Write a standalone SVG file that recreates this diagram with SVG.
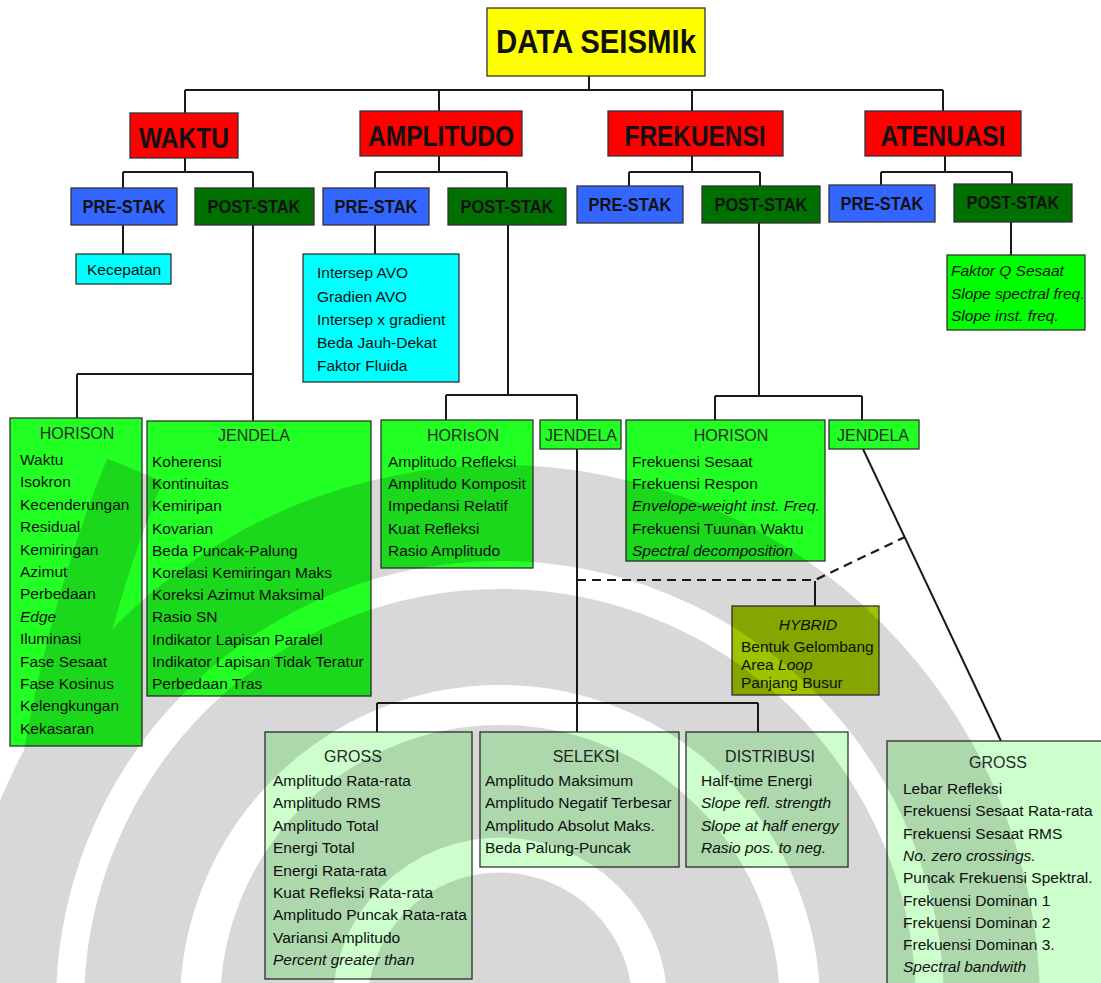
<svg xmlns="http://www.w3.org/2000/svg" width="1101" height="983" viewBox="0 0 1101 983">
<style>
text{font-family:"Liberation Sans",Arial,"DejaVu Sans",sans-serif;fill:#111}
.big{font-weight:bold}
.t{font-size:15.5px}
.h{font-size:16px;fill:#2a2a2a;text-anchor:middle}
.s{font-weight:bold;font-size:18px;text-anchor:middle}
.i{font-style:italic}
.box{stroke:#333;stroke-width:1.3}
.red{fill:#ff0000}
.blue{fill:#3366ff}
.dg{fill:#007000}
.cy{fill:#00ffff}
.gr{fill:#22ff22}
.pg{fill:#00ff00}
.lg{fill:#ccffcc}
.ol{fill:#9ec400}
.ln{stroke:#1a1a1a;stroke-width:2;fill:none}
.dash{stroke:#1a1a1a;stroke-width:2.2;fill:none;stroke-dasharray:9 6}
</style>
<defs>
<mask id="wmMask" maskUnits="userSpaceOnUse" x="0" y="0" width="1101" height="983">
<rect width="1101" height="983" fill="#000"/>
<circle cx="500" cy="1005" r="540" fill="#fff"/>
<path d="M30 990 Q40 700 135 470" stroke="#fff" stroke-width="60" fill="none"/>
<circle cx="500" cy="1005" r="300" stroke="#000" stroke-width="40" fill="none"/>
<circle cx="500" cy="1005" r="430" stroke="#000" stroke-width="28" fill="none"/>
<circle cx="500" cy="1005" r="150" stroke="#000" stroke-width="35" fill="none"/>
</mask>
</defs>
<rect width="1101" height="983" fill="#fff"/>

<g id="connectors">
<path class="ln" d="M589 76V90M185 90H943M185 90V113M439 90V111M692 90V111M943 90V111"/>
<path class="ln" d="M185 158V172M123 172H253M123 172V188M253 172V188"/>
<path class="ln" d="M439 156V172M375 172H507M375 172V188M507 172V188"/>
<path class="ln" d="M692 156V172M629 172H760M629 172V186M760 172V186"/>
<path class="ln" d="M945 156V172M881 172H1012M881 172V185M1012 172V184"/>
<path class="ln" d="M123 225V254"/>
<path class="ln" d="M253 225V421M77 374H253M77 374V418"/>
<path class="ln" d="M375 225V254"/>
<path class="ln" d="M508 225V395M446 395H577M446 395V420M577 395V420"/>
<path class="ln" d="M759 223V396M715 396H862M715 396V420M862 396V420"/>
<path class="ln" d="M1011 222V255"/>
<path class="ln" d="M577 449V732"/>
<path class="ln" d="M377 703H758M377 703V732M758 703V732"/>
<path class="ln" d="M863 449L1001 741"/>
<path class="dash" d="M577 580H815L905 537"/>
<path class="ln" d="M815 581V606"/>
</g>

<g id="data-seismik">
<rect class="box" x="487" y="8" width="218" height="68" fill="#ffff00"/>
<text class="big" x="596" y="53" font-size="33" text-anchor="middle" textLength="200" lengthAdjust="spacingAndGlyphs">DATA SEISMIk</text>
</g>
<g id="waktu">
<rect class="box red" x="130" y="113" width="108" height="45"/>
<text class="big" x="184" y="148" font-size="30" text-anchor="middle" textLength="90" lengthAdjust="spacingAndGlyphs">WAKTU</text>
</g>
<g id="amplitudo">
<rect class="box red" x="360" y="111" width="162" height="45"/>
<text class="big" x="441" y="146" font-size="30" text-anchor="middle" textLength="146" lengthAdjust="spacingAndGlyphs">AMPLITUDO</text>
</g>
<g id="frekuensi">
<rect class="box red" x="608" y="111" width="175" height="45"/>
<text class="big" x="695" y="146" font-size="30" text-anchor="middle" textLength="141" lengthAdjust="spacingAndGlyphs">FREKUENSI</text>
</g>
<g id="atenuasi">
<rect class="box red" x="865" y="111" width="156" height="45"/>
<text class="big" x="943" y="146" font-size="30" text-anchor="middle" textLength="125" lengthAdjust="spacingAndGlyphs">ATENUASI</text>
</g>

<g id="waktu-prestak">
<rect class="box blue" x="71" y="188" width="106" height="37"/>
<text class="s" x="124" y="213" textLength="83" lengthAdjust="spacingAndGlyphs">PRE-STAK</text>
</g>
<g id="waktu-poststak">
<rect class="box dg" x="195" y="188" width="119" height="37"/>
<text class="s" x="254" y="213" textLength="93" lengthAdjust="spacingAndGlyphs">POST-STAK</text>
</g>
<g id="amp-prestak">
<rect class="box blue" x="323" y="188" width="106" height="37"/>
<text class="s" x="376" y="213" textLength="83" lengthAdjust="spacingAndGlyphs">PRE-STAK</text>
</g>
<g id="amp-poststak">
<rect class="box dg" x="448" y="188" width="118" height="37"/>
<text class="s" x="507" y="213" textLength="93" lengthAdjust="spacingAndGlyphs">POST-STAK</text>
</g>
<g id="frek-prestak">
<rect class="box blue" x="577" y="186" width="106" height="37"/>
<text class="s" x="630" y="211" textLength="83" lengthAdjust="spacingAndGlyphs">PRE-STAK</text>
</g>
<g id="frek-poststak">
<rect class="box dg" x="702" y="186" width="118" height="37"/>
<text class="s" x="761" y="211" textLength="93" lengthAdjust="spacingAndGlyphs">POST-STAK</text>
</g>
<g id="aten-prestak">
<rect class="box blue" x="829" y="185" width="106" height="37"/>
<text class="s" x="882" y="210" textLength="83" lengthAdjust="spacingAndGlyphs">PRE-STAK</text>
</g>
<g id="aten-poststak">
<rect class="box dg" x="954" y="184" width="118" height="38"/>
<text class="s" x="1013" y="209" textLength="93" lengthAdjust="spacingAndGlyphs">POST-STAK</text>
</g>

<g id="kecepatan">
<rect class="box cy" x="76" y="254" width="95" height="30"/>
<text class="t" x="87" y="275">Kecepatan</text>
</g>
<g id="avo">
<rect class="box cy" x="303" y="254" width="156" height="128"/>
<text class="t" x="317" y="278">Intersep AVO</text>
<text class="t" x="317" y="302">Gradien AVO</text>
<text class="t" x="317" y="325">Intersep x gradient</text>
<text class="t" x="317" y="348">Beda Jauh-Dekat</text>
<text class="t" x="317" y="371">Faktor Fluida</text>
</g>
<g id="faktor-q">
<rect class="box pg" x="947" y="255" width="138" height="75"/>
<text class="t i" x="951" y="276">Faktor Q Sesaat</text>
<text class="t i" x="951" y="299">Slope spectral freq.</text>
<text class="t i" x="951" y="321">Slope inst. freq.</text>
</g>

<g id="waktu-horison">
<rect class="box gr" x="10" y="418" width="132" height="328"/>
<text class="h" x="77" y="439">HORISON</text>
<text class="t" x="20" y="465">Waktu</text>
<text class="t" x="20" y="487.4">Isokron</text>
<text class="t" x="20" y="509.8">Kecenderungan</text>
<text class="t" x="20" y="532.2">Residual</text>
<text class="t" x="20" y="554.6">Kemiringan</text>
<text class="t" x="20" y="577">Azimut</text>
<text class="t" x="20" y="599.4">Perbedaan</text>
<text class="t i" x="20" y="621.8">Edge</text>
<text class="t" x="20" y="644.2">Iluminasi</text>
<text class="t" x="20" y="666.6">Fase Sesaat</text>
<text class="t" x="20" y="689">Fase Kosinus</text>
<text class="t" x="20" y="711.4">Kelengkungan</text>
<text class="t" x="20" y="733.8">Kekasaran</text>
</g>
<g id="waktu-jendela">
<rect class="box gr" x="147" y="421" width="224" height="275"/>
<text class="h" x="254" y="441">JENDELA</text>
<text class="t" x="152" y="467">Koherensi</text>
<text class="t" x="152" y="489.2">Kontinuitas</text>
<text class="t" x="152" y="511.4">Kemiripan</text>
<text class="t" x="152" y="533.6">Kovarian</text>
<text class="t" x="152" y="555.8">Beda Puncak-Palung</text>
<text class="t" x="152" y="578">Korelasi Kemiringan Maks</text>
<text class="t" x="152" y="600.2">Koreksi Azimut Maksimal</text>
<text class="t" x="152" y="622.4">Rasio SN</text>
<text class="t" x="152" y="644.6">Indikator Lapisan Paralel</text>
<text class="t" x="152" y="666.8">Indikator Lapisan Tidak Teratur</text>
<text class="t" x="152" y="689">Perbedaan Tras</text>
</g>
<g id="amp-horison">
<rect class="box gr" x="381" y="420" width="152" height="148"/>
<text class="h" x="463" y="441">HORIsON</text>
<text class="t" x="388" y="467">Amplitudo Refleksi</text>
<text class="t" x="388" y="489.2">Amplitudo Komposit</text>
<text class="t" x="388" y="511.4">Impedansi Relatif</text>
<text class="t" x="388" y="533.6">Kuat Refleksi</text>
<text class="t" x="388" y="555.8">Rasio Amplitudo</text>
</g>
<g id="amp-jendela">
<rect class="box gr" x="540" y="420" width="81" height="29"/>
<text class="h" x="581" y="441">JENDELA</text>
</g>
<g id="frek-horison">
<rect class="box gr" x="626" y="420" width="199" height="141"/>
<text class="h" x="731" y="441">HORISON</text>
<text class="t" x="632" y="467">Frekuensi Sesaat</text>
<text class="t" x="632" y="489.2">Frekuensi Respon</text>
<text class="t i" x="632" y="511.4">Envelope-weight inst. Freq.</text>
<text class="t" x="632" y="533.6">Frekuensi Tuunan Waktu</text>
<text class="t i" x="632" y="555.8">Spectral decomposition</text>
</g>
<g id="frek-jendela">
<rect class="box gr" x="829" y="420" width="90" height="29"/>
<text class="h" x="873" y="441">JENDELA</text>
</g>
<g id="hybrid">
<rect class="box ol" x="732" y="606" width="147" height="89"/>
<text class="t i" x="808" y="630" text-anchor="middle">HYBRID</text>
<text class="t" x="741" y="652">Bentuk Gelombang</text>
<text class="t" x="741" y="670">Area <tspan class="i">Loop</tspan></text>
<text class="t" x="741" y="688">Panjang Busur</text>
</g>
<g id="amp-gross">
<rect class="box lg" x="265" y="732" width="207" height="247"/>
<text class="h" x="353" y="762">GROSS</text>
<text class="t" x="273" y="786">Amplitudo Rata-rata</text>
<text class="t" x="273" y="808.4">Amplitudo RMS</text>
<text class="t" x="273" y="830.8">Amplitudo Total</text>
<text class="t" x="273" y="853.2">Energi Total</text>
<text class="t" x="273" y="875.6">Energi Rata-rata</text>
<text class="t" x="273" y="898">Kuat Refleksi Rata-rata</text>
<text class="t" x="273" y="920.4">Amplitudo Puncak Rata-rata</text>
<text class="t" x="273" y="942.8">Variansi Amplitudo</text>
<text class="t i" x="273" y="965.2">Percent greater than</text>
</g>
<g id="amp-seleksi">
<rect class="box lg" x="480" y="732" width="199" height="135"/>
<text class="h" x="586" y="762">SELEKSI</text>
<text class="t" x="485" y="786">Amplitudo Maksimum</text>
<text class="t" x="485" y="808.4">Amplitudo Negatif Terbesar</text>
<text class="t" x="485" y="830.8">Amplitudo Absolut Maks.</text>
<text class="t" x="485" y="853.2">Beda Palung-Puncak</text>
</g>
<g id="amp-distribusi">
<rect class="box lg" x="686" y="732" width="162" height="135"/>
<text class="h" x="770" y="762">DISTRIBUSI</text>
<text class="t" x="701" y="786">Half-time Energi</text>
<text class="t i" x="701" y="808.4">Slope refl. strength</text>
<text class="t i" x="701" y="830.8">Slope at half energy</text>
<text class="t i" x="701" y="853.2">Rasio pos. to neg.</text>
</g>
<g id="frek-gross">
<rect class="box lg" x="887" y="741" width="220" height="250"/>
<text class="h" x="998" y="768">GROSS</text>
<text class="t" x="903" y="794">Lebar Refleksi</text>
<text class="t" x="903" y="816.3">Frekuensi Sesaat Rata-rata</text>
<text class="t" x="903" y="838.6">Frekuensi Sesaat RMS</text>
<text class="t i" x="903" y="860.9">No. zero crossings.</text>
<text class="t" x="903" y="883.2">Puncak Frekuensi Spektral.</text>
<text class="t" x="903" y="905.5">Frekuensi Dominan 1</text>
<text class="t" x="903" y="927.8">Frekuensi Dominan 2</text>
<text class="t" x="903" y="950.1">Frekuensi Dominan 3.</text>
<text class="t i" x="903" y="972.4">Spectral bandwith</text>
</g>

<g id="watermark">
<rect width="1101" height="983" fill="#000" opacity="0.15" mask="url(#wmMask)"/>
</g>
</svg>
